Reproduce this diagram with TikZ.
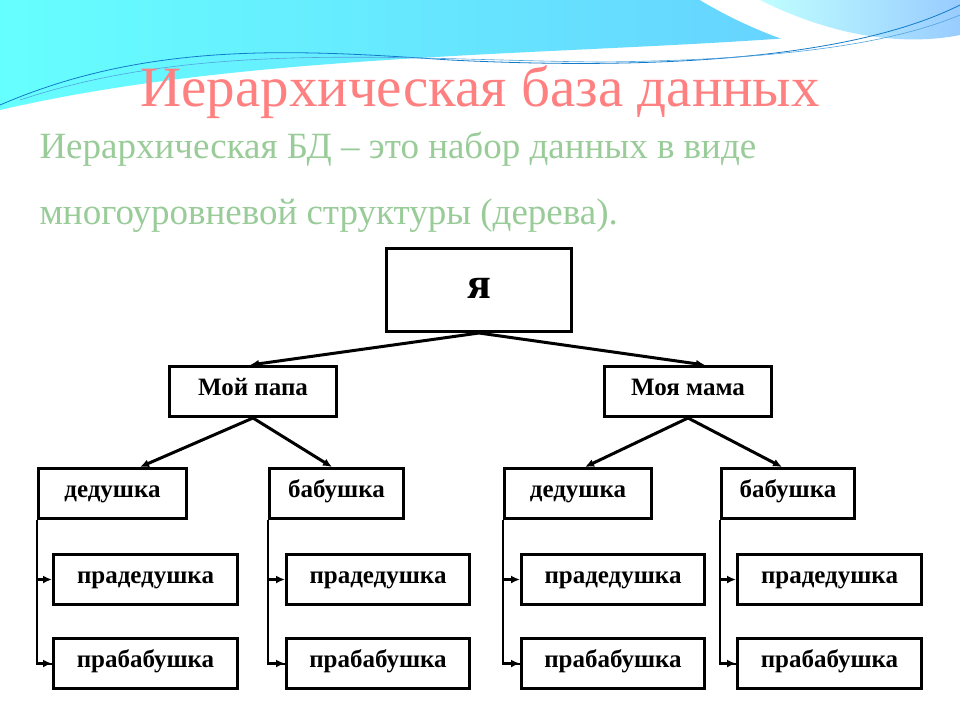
\documentclass[tikz,border=0pt]{standalone}
\usepackage{fontspec}
\usetikzlibrary{arrows.meta}
\setmainfont{Liberation Serif}
\begin{document}
\begin{tikzpicture}[x=1pt,y=-1pt,
  box/.style={draw,line width=3pt,font=\bfseries\fontsize{25}{25}\selectfont,inner sep=0pt,anchor=north west,text height=11pt,text depth=3pt},
  arr/.style={line width=3pt,-{Latex[length=9pt,width=8pt]}}]
\useasboundingbox (0,0) rectangle (960,720);
\fill[white] (0,0) rectangle (960,720);
% waves
\shade[left color=cyan!60!white,right color=blue!35!cyan!60!white] (0,0) -- (960,0) -- (960,20) .. controls (700,60) and (300,40) .. (0,110) -- cycle;
\fill[white] (700,0) .. controls (800,60) and (900,70) .. (960,60) -- (960,0) -- cycle;
\shade[left color=cyan!25!white,right color=cyan!50!blue!40!white] (760,0) .. controls (840,40) and (910,45) .. (960,35) -- (960,0) -- cycle;
\draw[cyan!60!blue,line width=0.8pt] (0,105) .. controls (150,40) and (300,50) .. (450,60) .. controls (650,70) and (850,60) .. (960,5);
\draw[cyan!70!blue!70,line width=0.6pt] (20,100) .. controls (200,40) and (400,60) .. (600,62) .. controls (800,60) and (900,40) .. (960,15);
\fill[white] (30,240) rectangle (925,692);
\node[text=red!50!white,font=\fontsize{57}{57}\selectfont,anchor=base] (title) at (480,106) {Иерархическая база данных};
\node[text=green!50!black!40!white,font=\fontsize{37}{37}\selectfont,anchor=base west] (s1) at (36,158) {Иерархическая БД – это набор данных в виде};
\node[text=green!50!black!40!white,font=\fontsize{37}{37}\selectfont,anchor=base west] (s2) at (36,224) {многоуровневой структуры (дерева).};
% tree
\node[box,minimum width=185,minimum height=83,font=\bfseries\fontsize{44}{44}\selectfont,text height=20pt] (ya) at (385,247) {я};
\node[box,minimum width=167,minimum height=50] (papa) at (168,365) {Мой папа};
\node[box,minimum width=167,minimum height=50] (mama) at (603,365) {Моя мама};
\draw[arr] (ya.south) -- (250,365);
\draw[arr] (ya.south) -- (705,365);
\node[box,minimum width=148,minimum height=50] (d1) at (37,467) {дедушка};
\node[box,minimum width=134,minimum height=50] (b1) at (268,467) {бабушка};
\node[box,minimum width=147,minimum height=50] (d2) at (503,467) {дедушка};
\node[box,minimum width=133,minimum height=50] (b2) at (720,467) {бабушка};
\draw[arr] (papa.south) -- (140,467);
\draw[arr] (papa.south) -- (332,467);
\draw[arr] (mama.south) -- (585,467);
\draw[arr] (mama.south) -- (782,467);
\foreach \n/\p/\x/\w in {1/d1/52/184,2/b1/285/183,3/d2/520/183,4/b2/736/184}{
  \node[box,minimum width=\w,minimum height=50] (pd\n) at (\x,553) {прадедушка};
  \node[box,minimum width=\w,minimum height=50] (pb\n) at (\x,637) {прабабушка};
  \draw[line width=2pt] (\p.south west) |- (pb\n.west);
  \draw[arr] (\p.south west |- pd\n.west) -- (pd\n.west);
  \draw[arr] (\p.south west |- pb\n.west) -- (pb\n.west);
}
\end{tikzpicture}
\end{document}
